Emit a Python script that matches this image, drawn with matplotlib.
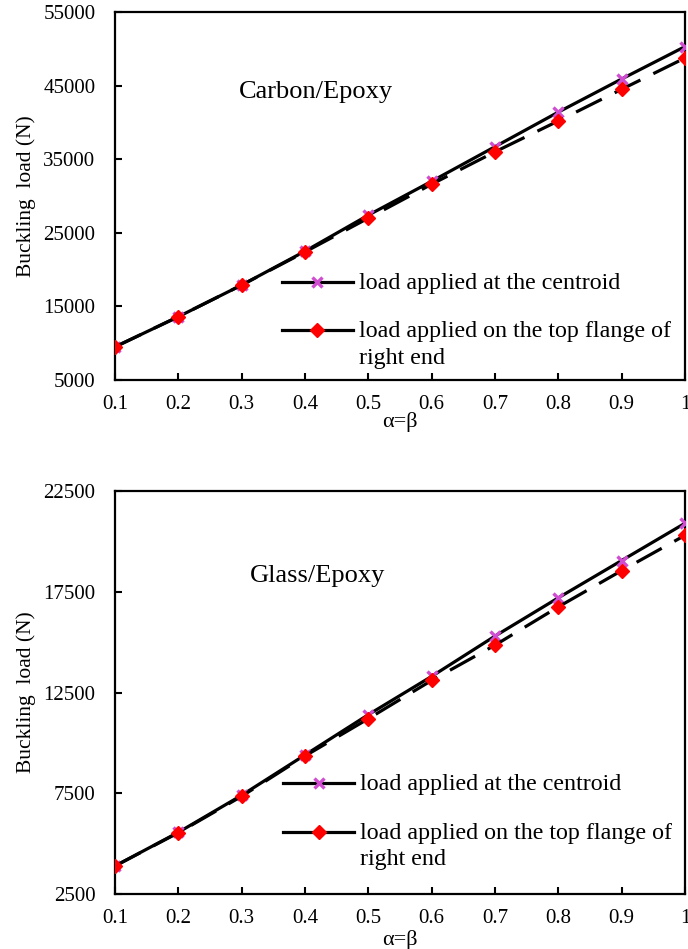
import matplotlib
matplotlib.use("Agg")
import matplotlib.pyplot as plt
from matplotlib.lines import Line2D

plt.rcParams['font.family'] = ['Liberation Serif', 'DejaVu Serif']

# alpha = beta values
alpha = [0.1, 0.2, 0.3, 0.4, 0.5, 0.6, 0.7, 0.8, 0.9, 1.0]
x_labels = ['0.1', '0.2', '0.3', '0.4', '0.5', '0.6', '0.7', '0.8', '0.9', '1']

# buckling loads (N)
carbon_centroid = [9500, 13600, 17900, 22500, 27400, 32000, 36700, 41400, 45900, 50300]
carbon_flange = [9500, 13600, 17900, 22400, 27000, 31600, 36000, 40200, 44500, 48750]
glass_centroid = [3890, 5560, 7400, 9400, 11400, 13300, 15300, 17200, 19050, 20900]
glass_flange = [3890, 5540, 7350, 9350, 11200, 13100, 14850, 16750, 18550, 20300]

carbon_yticks = [5000, 15000, 25000, 35000, 45000, 55000]
glass_yticks = [2500, 7500, 12500, 17500, 22500]

label_centroid = 'load applied at the centroid'
label_flange = 'load applied on the top flange of\nright end'

MAGENTA = '#d04cd0'

W, H = 688, 949
fig = plt.figure(figsize=(W / 100, H / 100), dpi=100)


def px_axes(left, top, right, bottom):
    return fig.add_axes([left / W, 1 - bottom / H, (right - left) / W, (bottom - top) / H])


def draw_panel(ax, centroid, flange, yticks, title, title_pos, leg_anchor):
    ax.plot(alpha, centroid, color='black', lw=2.3, marker='x', ms=7, mew=2.4,
            mec=MAGENTA, mfc=MAGENTA, zorder=3)
    ax.plot(alpha, flange, color='black', lw=2.3, dashes=(9, 4.5), marker='D', ms=7.5,
            mec='red', mfc='red', zorder=4)

    ax.set_xlim(0.1, 1.0)
    ax.set_ylim(yticks[0], yticks[-1])
    ax.set_xticks(alpha)
    ax.set_xticklabels(x_labels)
    ax.set_yticks(yticks)
    ax.set_yticklabels([str(v) for v in yticks])
    ax.tick_params(axis='x', direction='in', length=5, width=1.5, labelsize=15, pad=11)
    ax.tick_params(axis='y', direction='in', length=5, width=1.5, labelsize=15, pad=14)
    for s in ax.spines.values():
        s.set_linewidth(1.6)
        s.set_color('black')

    ax.set_ylabel('Buckling  load (N)', fontsize=15.5)
    ax.yaxis.set_label_coords(-0.138, 0.5)
    ax.set_xlabel('\u03b1=\u03b2', fontsize=16)
    ax.xaxis.set_label_coords(0.5, -0.113)
    ax.xaxis.label.set_va('center')

    ax.text(title_pos[0], title_pos[1], title, transform=ax.transAxes,
            fontsize=19, ha='center', va='center')

    handles = [
        Line2D([], [], color='black', lw=2.3, marker='x', ms=7, mew=2.4,
               mec=MAGENTA, mfc=MAGENTA),
        Line2D([], [], color='black', lw=2.3, marker='D', ms=7.5, mec='red', mfc='red'),
    ]
    leg = ax.legend(handles, [label_centroid, label_flange], loc='upper left',
                    bbox_to_anchor=leg_anchor, frameon=False, fontsize=17.3,
                    handlelength=2.95, handletextpad=0.25, labelspacing=1.15,
                    borderpad=0, borderaxespad=0, handleheight=0.9)
    for t in leg.get_texts():
        t.set_linespacing(1.35)
    # put the handle next to the first line of a two-line label
    for col in leg._legend_handle_box.get_children():
        for row in col.get_children():
            row.align = 'top'


ax1 = px_axes(115, 12, 685, 380)
draw_panel(ax1, carbon_centroid, carbon_flange, carbon_yticks, 'Carbon/Epoxy',
           (0.353, 0.783), (0.293, 0.292))

ax2 = px_axes(115, 491, 685, 894)
draw_panel(ax2, glass_centroid, glass_flange, glass_yticks, 'Glass/Epoxy',
           (0.355, 0.79), (0.295, 0.298))

fig.savefig('out.png', dpi=100)
